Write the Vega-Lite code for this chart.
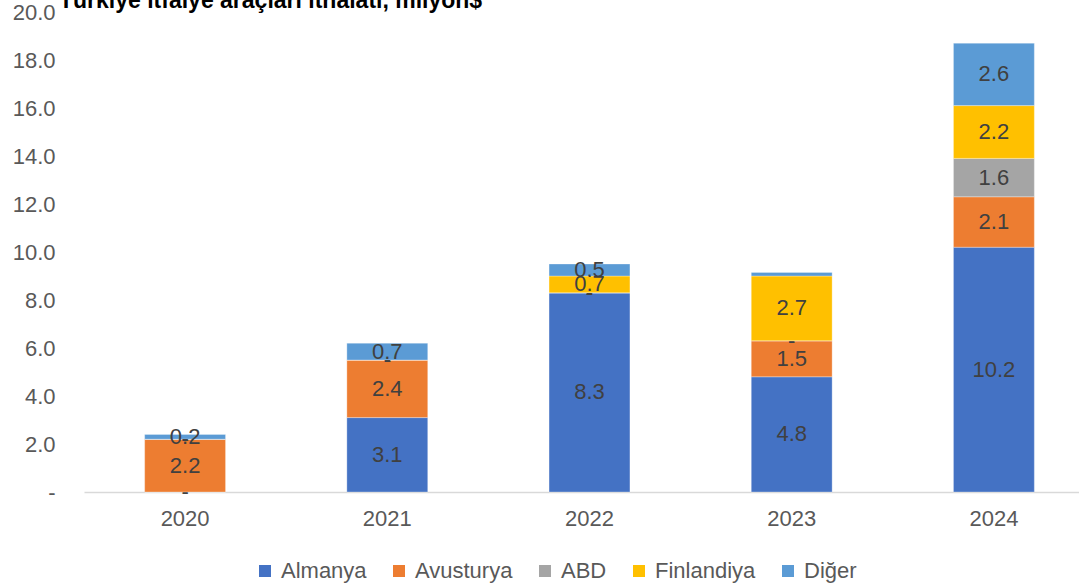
{
  "$schema": "https://vega.github.io/schema/vega-lite/v6.json",
  "width": 1011,
  "height": 480,
  "autosize": {"type": "none"},
  "padding": {"left": 84, "top": 12, "right": 0, "bottom": 95},
  "background": "white",
  "title": {
    "text": "Türkiye itfaiye araçları ithalatı, milyon$",
    "font": "Liberation Sans",
    "fontSize": 23,
    "fontWeight": "bold",
    "color": "#000000",
    "anchor": "start",
    "frame": "group",
    "baseline": "alphabetic",
    "offset": 0,
    "dy": 30,
    "dx": -25
  },
  "config": {
    "view": {"stroke": null},
    "font": "Liberation Sans"
  },
  "data": {
    "values": [
      {"yil": "2020", "ulke": "Almanya", "deger": 0},
      {"yil": "2020", "ulke": "Avusturya", "deger": 2.2},
      {"yil": "2020", "ulke": "ABD", "deger": 0},
      {"yil": "2020", "ulke": "Finlandiya", "deger": 0},
      {"yil": "2020", "ulke": "Diğer", "deger": 0.2},
      {"yil": "2021", "ulke": "Almanya", "deger": 3.1},
      {"yil": "2021", "ulke": "Avusturya", "deger": 2.4},
      {"yil": "2021", "ulke": "ABD", "deger": 0},
      {"yil": "2021", "ulke": "Finlandiya", "deger": 0},
      {"yil": "2021", "ulke": "Diğer", "deger": 0.7},
      {"yil": "2022", "ulke": "Almanya", "deger": 8.3},
      {"yil": "2022", "ulke": "Avusturya", "deger": 0},
      {"yil": "2022", "ulke": "ABD", "deger": 0},
      {"yil": "2022", "ulke": "Finlandiya", "deger": 0.7},
      {"yil": "2022", "ulke": "Diğer", "deger": 0.5},
      {"yil": "2023", "ulke": "Almanya", "deger": 4.8},
      {"yil": "2023", "ulke": "Avusturya", "deger": 1.5},
      {"yil": "2023", "ulke": "ABD", "deger": 0},
      {"yil": "2023", "ulke": "Finlandiya", "deger": 2.7},
      {"yil": "2023", "ulke": "Diğer", "deger": 0.15},
      {"yil": "2024", "ulke": "Almanya", "deger": 10.2},
      {"yil": "2024", "ulke": "Avusturya", "deger": 2.1},
      {"yil": "2024", "ulke": "ABD", "deger": 1.6},
      {"yil": "2024", "ulke": "Finlandiya", "deger": 2.2},
      {"yil": "2024", "ulke": "Diğer", "deger": 2.6}
    ]
  },
  "transform": [
    {"calculate": "indexof(['Almanya','Avusturya','ABD','Finlandiya','Diğer'], datum.ulke)", "as": "sira"},
    {"stack": "deger", "groupby": ["yil"], "sort": [{"field": "sira", "order": "ascending"}], "as": ["y0", "y1"]},
    {"calculate": "(datum.y0 + datum.y1) / 2", "as": "orta"},
    {"calculate": "datum.deger == 0 ? '-' : format(datum.deger, '.1f')", "as": "etiket"}
  ],
  "encoding": {
    "x": {
      "field": "yil",
      "type": "nominal",
      "title": null,
      "scale": {"paddingInner": 0.6, "paddingOuter": 0.3},
      "axis": {
        "labelAngle": 0,
        "labelFont": "Liberation Sans",
        "labelFontSize": 22,
        "labelColor": "#595959",
        "labelPadding": 16,
        "ticks": false,
        "domainColor": "#D9D9D9",
        "domainWidth": 1.5
      }
    }
  },
  "layer": [
    {
      "mark": {"type": "bar", "stroke": "white", "strokeWidth": 0.5, "strokeOpacity": 0.6},
      "encoding": {
        "y": {
          "field": "y0",
          "type": "quantitative",
          "title": null,
          "scale": {"domain": [0, 20], "nice": false},
          "axis": {
            "values": [0, 2, 4, 6, 8, 10, 12, 14, 16, 18, 20],
            "labelExpr": "datum.value == 0 ? '-' : format(datum.value, '.1f')",
            "labelFont": "Liberation Sans",
            "labelFontSize": 22,
            "labelColor": "#595959",
            "labelPadding": 29,
            "ticks": false,
            "domain": false,
            "grid": false
          }
        },
        "y2": {"field": "y1"},
        "color": {
          "field": "ulke",
          "type": "nominal",
          "title": null,
          "scale": {
            "domain": ["Almanya", "Avusturya", "ABD", "Finlandiya", "Diğer"],
            "range": ["#4472C4", "#ED7D31", "#A5A5A5", "#FFC000", "#5B9BD5"]
          },
          "legend": {
            "orient": "none",
            "direction": "horizontal",
            "legendX": 170,
            "legendY": 548,
            "symbolType": "square",
            "symbolSize": 144,
            "symbolStrokeWidth": 0,
            "labelFont": "Liberation Sans",
            "labelFontSize": 22,
            "labelColor": "#595959",
            "labelOffset": 5,
            "columnPadding": 21
          }
        }
      }
    },
    {
      "transform": [{"filter": "datum.deger == 0 || datum.deger >= 0.2"}],
      "mark": {"type": "text", "font": "Liberation Sans", "fontSize": 22, "color": "#404040", "baseline": "middle", "align": "center"},
      "encoding": {
        "y": {"field": "orta", "type": "quantitative"},
        "text": {"field": "etiket"}
      }
    }
  ]
}
